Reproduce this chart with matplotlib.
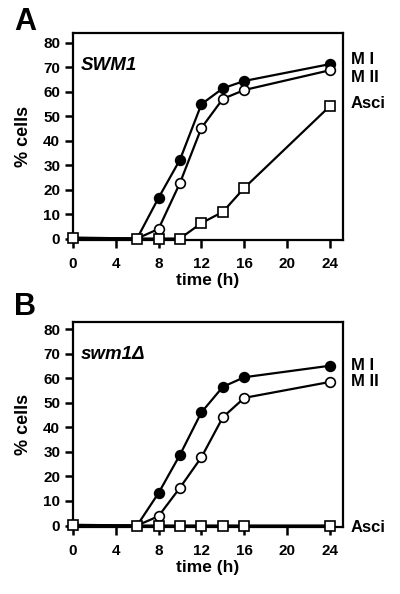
import matplotlib
matplotlib.use("Agg")
import matplotlib.pyplot as plt

plt.rcParams['font.family'] = ['Liberation Sans', 'DejaVu Sans']
plt.rcParams['font.weight'] = 'bold'

time_h = [0, 6, 8, 10, 12, 14, 16, 24]
x_ticks = [0, 4, 8, 12, 16, 20, 24]
y_ticks = [0, 10, 20, 30, 40, 50, 60, 70, 80]

# panel A, SWM1
a_mi = [0, 0, 16.6, 32.2, 54.9, 61.4, 64.4, 71.3]
a_mii = [0, 0, 3.9, 22.7, 45.2, 57.1, 60.7, 68.8]
a_asci = [0.4, 0, 0, 0, 6.3, 10.9, 20.7, 54.2]

# panel B, swm1 delta
b_mi = [0, 0, 13.2, 28.8, 46.1, 56.5, 60.4, 65.1]
b_mii = [0, 0, 3.8, 15.4, 27.8, 44.1, 52.0, 58.5]
b_asci = [0.3, 0, 0, 0, 0, 0, 0, 0]

fig = plt.figure(figsize=(4, 5.94), dpi=100)
W, H = 400, 594

def panel(bottom_px, top_px, mi, mii, asci, strain, letter, ytop, lab_y, letter_y):
    ax = fig.add_axes([72.7 / W, 1 - bottom_px / H, (343 - 72.7) / W, (bottom_px - top_px) / H])
    ax.plot(time_h, mi, '-', color='black', lw=1.6, marker='o', ms=7,
            mfc='black', mec='black', mew=1.2, zorder=3)
    ax.plot(time_h, mii, '-', color='black', lw=1.6, marker='o', ms=7,
            mfc='white', mec='black', mew=1.2, zorder=4)
    ax.plot(time_h, asci, '-', color='black', lw=1.6, marker='s', ms=6.5,
            mfc='white', mec='black', mew=1.2, zorder=5, clip_on=False)
    ax.set_xlim(0, 25.2)
    ax.set_ylim(-0.6, ytop)
    ax.set_xticks(x_ticks)
    ax.set_yticks(y_ticks)
    ax.tick_params(direction='out', length=6, width=1.8, labelsize=11, pad=3)
    ax.tick_params(axis='x', pad=6)
    for s in ax.spines.values():
        s.set_linewidth(1.6)
    for lbl in ax.get_xticklabels() + ax.get_yticklabels():
        lbl.set_fontweight('bold')
    ax.set_xlabel('time (h)', fontsize=12.5, fontweight='bold', labelpad=2)
    ax.set_ylabel('% cells', fontsize=13, fontweight='bold', labelpad=8)
    ax.text(0.03, 0.82, strain, transform=ax.transAxes, fontsize=13.5,
            fontweight='bold', style='italic')
    fig.text(14 / W, 1 - letter_y / H, letter, fontsize=22, fontweight='bold', va='center')
    for name, yy in zip(['M I', 'M II', 'Asci'], lab_y):
        fig.text(351 / W, 1 - yy / H, name, fontsize=12, fontweight='bold', va='center')
    return ax

panel(240, 33, a_mi, a_mii, a_asci, 'SWM1', 'A', 84.0, [60, 78, 104], 22)
panel(527, 322, b_mi, b_mii, b_asci, 'swm1Δ', 'B', 82.9, [366, 382, 527], 307)

fig.savefig('out.png', dpi=100)
